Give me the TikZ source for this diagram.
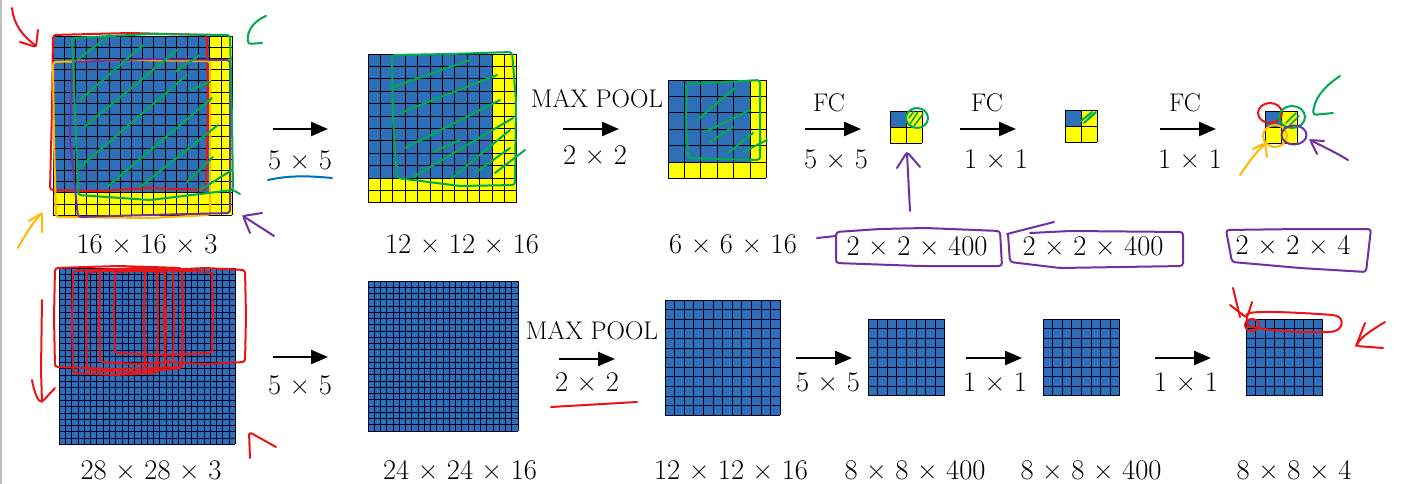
\documentclass[tikz,border=0pt]{standalone}
\usetikzlibrary{arrows.meta}
\definecolor{cellblue}{RGB}{46,112,184}
\definecolor{cellyellow}{RGB}{255,255,0}
\definecolor{penred}{RGB}{235,20,20}
\definecolor{pengreen}{RGB}{0,170,80}
\definecolor{penorange}{RGB}{255,185,0}
\definecolor{penpurple}{RGB}{112,48,160}
\definecolor{penblue}{RGB}{0,112,192}
\newcommand{\cnngrid}[7]{%
  \fill[cellyellow] (#2,#3) rectangle ++({#4*#5},{#4*#5});
  \fill[cellblue] (#2,#3) rectangle ++({#4*#6},{#4*#6});
  \foreach \k in {0,...,#5}{
    \draw[#7] ({#2+\k*#4},#3) -- ++(0,{#4*#5});
    \draw[#7] (#2,{#3+\k*#4}) -- ++({#4*#5},0);
  }
  \node[inner sep=0,minimum width={#4*#5*1pt},minimum height={#4*#5*1pt}] (#1) at ({#2+#4*#5/2},{#3+#4*#5/2}) {};
}
\tikzset{
  gl/.style={black, line width=0.9pt},
  bl/.style={black!85!blue, line width=0.8pt},
  lab/.style={font=\fontsize{28.5}{30}\selectfont, inner sep=0},
  op/.style={font=\fontsize{25.5}{28}\selectfont, inner sep=0},
  arr/.style={-{Triangle[length=17pt,width=14pt]}, line width=2.4pt},
  hand/.style={line width=2pt, line cap=round, line join=round, rounded corners=3pt},
}
\begin{document}
\begin{tikzpicture}[x=1pt,y=-1pt]
\useasboundingbox (0,0) rectangle (1408,484);
\fill[white] (0,0) rectangle (1408,484);
\draw[black!25, line width=2pt] (1,0) -- (1,484);

% ---------- top row grids ----------
\cnngrid{g1}{53}{36}{11.2}{16}{14}{gl}
\cnngrid{g2}{368}{54}{12.4}{12}{10}{gl}
\cnngrid{g3}{668}{80}{16.4}{6}{5}{gl}
\cnngrid{g4}{890}{111}{16}{2}{1}{gl}
\cnngrid{g5}{1065}{110}{16}{2}{1}{gl}
\cnngrid{g6}{1265}{111}{16}{2}{1}{gl}

% ---------- bottom row grids ----------
\cnngrid{h1}{59}{268}{6.3}{28}{28}{bl}
\cnngrid{h2}{368}{281}{6.25}{24}{24}{bl}
\cnngrid{h3}{665}{300}{9.6}{12}{12}{bl}
\cnngrid{h4}{868}{319}{9.6}{8}{8}{bl}
\cnngrid{h5}{1043}{319}{9.6}{8}{8}{bl}
\cnngrid{h6}{1246}{319}{9.6}{8}{8}{bl}

% ---------- arrows ----------
\coordinate (ta1) at (273,129); \coordinate (tb1) at (328,129);
\coordinate (ta2) at (563,129); \coordinate (tb2) at (619,129);
\coordinate (ta3) at (805,129); \coordinate (tb3) at (861,129);
\coordinate (ta4) at (960,129); \coordinate (tb4) at (1016,129);
\coordinate (ta5) at (1160,129); \coordinate (tb5) at (1216,129);
\coordinate (ba1) at (273,357); \coordinate (bb1) at (328,357);
\coordinate (ba2) at (559,359); \coordinate (bb2) at (615,359);
\coordinate (ba3) at (796,358); \coordinate (bb3) at (852,358);
\coordinate (ba4) at (966,358); \coordinate (bb4) at (1022,358);
\coordinate (ba5) at (1155,358); \coordinate (bb5) at (1211,358);
\foreach \i in {1,...,5}{
  \draw[arr] (ta\i) -- (tb\i);
  \draw[arr] (ba\i) -- (bb\i);
}

% ---------- operation labels ----------
\node[lab] (o1) at (300,160) {5 × 5};
\node[op]  (o2a) at (597,99) {MAX POOL};
\node[lab] (o2) at (595,155) {2 × 2};
\node[op]  (o3a) at (829,103) {FC};
\node[lab] (o3) at (836,159) {5 × 5};
\node[op]  (o4a) at (987,103) {FC};
\node[lab] (o4) at (996,159) {1 × 1};
\node[op]  (o5a) at (1185,103) {FC};
\node[lab] (o5) at (1190,159) {1 × 1};

\node[lab] (p1) at (300,385) {5 × 5};
\node[op]  (p2a) at (592,331) {MAX POOL};
\node[lab] (p2) at (587,382) {2 × 2};
\node[lab] (p3) at (828,382) {5 × 5};
\node[lab] (p4) at (995,382) {1 × 1};
\node[lab] (p5) at (1186,382) {1 × 1};

% ---------- size labels ----------
\node[lab] (s1) at (147,244) {16 × 16 × 3};
\node[lab] (s2) at (462,244) {12 × 12 × 16};
\node[lab] (s3) at (733,244) {6 × 6 × 16};
\node[lab] (s4) at (917,246) {2 × 2 × 400};
\node[lab] (s5) at (1093,246) {2 × 2 × 400};
\node[lab] (s6) at (1293,245) {2 × 2 × 4};

\node[lab] (t1) at (151,470) {28 × 28 × 3};
\node[lab] (t2) at (460,470) {24 × 24 × 16};
\node[lab] (t3) at (731,470) {12 × 12 × 16};
\node[lab] (t4) at (915,470) {8 × 8 × 400};
\node[lab] (t5) at (1091,470) {8 × 8 × 400};
\node[lab] (t6) at (1294,470) {8 × 8 × 4};

% ---------- hand annotations: grid 1 ----------
\draw[hand,penred] (53,35) -- (130,33) -- (207,35) -- (208,110) -- (206,190) -- (150,188) -- (100,191) -- (50,190) -- (52,110) -- cycle;
\draw[hand,penred] (12,8) .. controls (14,25) and (22,35) .. (36,46);
\draw[hand,penred] (20,42) -- (36,47) -- (38,30);
\draw[hand,penorange] (53,62) -- (130,60) -- (210,61) -- (210,215) -- (150,218) -- (56,217) -- (54,140) -- cycle;
\draw[hand,penorange] (18,248) .. controls (25,235) and (33,222) .. (42,213);
\draw[hand,penorange] (29,221) -- (42,213) -- (42,232);
\draw[hand,penpurple] (72,62) -- (150,59) -- (230,60) -- (230,213) -- (150,215) -- (78,217) -- (70,140) -- cycle;
\draw[hand,penpurple] (274,236) .. controls (262,228) and (252,222) .. (243,216);
\draw[hand,penpurple] (262,213) -- (243,216) -- (250,233);
\draw[hand,pengreen] (72,38) -- (150,34) -- (230,35) -- (232,120) -- (233,190) -- (150,200) -- (78,195) -- (75,110) -- cycle;
\draw[hand,pengreen] (233,190) -- (240,194);
\draw[hand,pengreen] (266,16) .. controls (252,22) and (247,32) .. (248,44) -- (262,43);
\foreach \a/\b/\c/\d in {77/60/110/35, 80/100/143/45, 83/128/177/50, 80/167/187/75, 107/187/212/98, 140/187/218/125, 187/182/213/157, 175/72/200/55, 190/90/210/82, 200/190/232/170}{
  \draw[hand,pengreen] (\a,\b) -- (\c,\d);
}

% ---------- grid 2 ----------
\draw[hand,pengreen] (392,55) -- (450,54) -- (512,52) -- (516,100) -- (515,185) -- (460,186) -- (397,178) -- (393,120) -- cycle;
\foreach \a/\b/\c/\d in {390/88/470/60, 400/113/497/75, 405/148/500/100, 413/177/513/118, 433/152/460/140, 452/178/510/130, 475/173/510/148, 495/173/525/150}{
  \draw[hand,pengreen] (\a,\b) -- (\c,\d);
}
\draw[hand,penblue] (268,180) .. controls (290,175) and (310,176) .. (332,178);

% ---------- grid 3 ----------
\draw[hand,pengreen] (687,84) -- (725,82) -- (760,80) -- (760,160) -- (720,159) -- (688,158) -- (686,120) -- cycle;
\foreach \a/\b/\c/\d in {697/120/723/98, 705/132/750/110, 710/142/733/127, 728/153/753/133, 743/152/767/140, 715/105/735/88}{
  \draw[hand,pengreen] (\a,\b) -- (\c,\d);
}

% ---------- grid 4 ----------
\draw[hand,pengreen] (917,118) ellipse (11pt and 10pt);
\foreach \a/\b/\c/\d in {910/124/918/112, 914/126/923/114, 909/118/914/111}{
  \draw[hand,pengreen,line width=1.6pt] (\a,\b) -- (\c,\d);
}
\draw[hand,penpurple] (910,211) -- (907,153);
\draw[hand,penpurple] (897,168) -- (907,152) -- (920,167);

% ---------- grid 5 ----------
\foreach \a/\b/\c/\d in {1081/121/1092/112, 1084/123/1095/113, 1088/119/1096/112}{
  \draw[hand,pengreen] (\a,\b) -- (\c,\d);
}

% ---------- grid 6 ----------
\draw[hand,penred] (1270,113) ellipse (12pt and 10pt);
\draw[hand,pengreen] (1292,117) ellipse (13pt and 11pt);
\foreach \a/\b/\c/\d in {1286/123/1296/113, 1290/125/1299/116}{
  \draw[hand,pengreen,line width=1.6pt] (\a,\b) -- (\c,\d);
}
\draw[hand,penorange] (1275,136) ellipse (12pt and 11pt);
\draw[hand,penpurple] (1294,135) ellipse (12.5pt and 9.5pt);
\draw[hand,pengreen] (1340,76) .. controls (1322,88) and (1314,100) .. (1313,115) -- (1333,113);
\draw[hand,penorange] (1240,175) .. controls (1248,163) and (1256,152) .. (1265,144);
\draw[hand,penorange] (1253,149) -- (1265,143) -- (1267,157);
\draw[hand,penpurple] (1348,160) .. controls (1335,152) and (1320,145) .. (1310,140);
\draw[hand,penpurple] (1317,154) -- (1310,140) -- (1324,141);

% ---------- purple boxes ----------
\draw[hand,penpurple] (836,232) -- (880,229) -- (925,228) -- (1000,231) -- (1002,266) -- (920,266) -- (836,263) -- cycle;
\draw[hand,penpurple] (817,238) -- (836,236);
\draw[hand,penpurple] (1007,234) -- (1054,222);
\draw[hand,penpurple] (1008,234) -- (1010,262) -- (1060,268) -- (1183,266) -- (1183,232) -- (1070,231) -- (1030,233);
\draw[hand,penpurple] (1226,230) -- (1300,229) -- (1371,229) -- (1366,272) -- (1300,268) -- (1232,262) -- cycle;

% ---------- bottom annotations ----------
\foreach \xa/\ya/\xb/\yb in {55/268/182/367, 73/271/157/373, 87/272/165/370, 100/270/173/362, 115/272/212/353, 145/270/182/368, 165/270/245/362}{
  \draw[hand,penred] (\xa,\ya) -- ({(\xa+\xb)/2},{\ya-2}) -- (\xb,\ya) -- ({\xb+1},{(\ya+\yb)/2}) -- (\xb,\yb) -- ({(\xa+\xb)/2},{\yb+2}) -- (\xa,\yb) -- ({\xa-1},{(\ya+\yb)/2}) -- cycle;
}
\draw[hand,penred] (42,300) -- (41,370) -- (42,402);
\draw[hand,penred] (32,380) .. controls (34,392) and (38,400) .. (42,402) -- (55,388);
\draw[hand,penred] (250,458) -- (249,432) -- (276,447);
\draw[hand,penred] (551,407) -- (637,402);
\draw[hand,penred] (1247,318) .. controls (1245,310) and (1290,312) .. (1333,315) .. controls (1345,318) and (1343,330) .. (1330,332) .. controls (1300,333) and (1260,330) .. (1247,325) -- cycle;
\draw[hand,penred] (1252,325) ellipse (7pt and 6pt);
\draw[hand,penred] (1233,288) -- (1240,317);
\draw[hand,penred] (1230,305) -- (1247,318) -- (1252,302);
\draw[hand,penred] (1385,322) .. controls (1372,330) and (1362,336) .. (1356,346) -- (1383,348);
\draw[hand,penred] (1356,346) -- (1365,323);
\end{tikzpicture}
\end{document}
